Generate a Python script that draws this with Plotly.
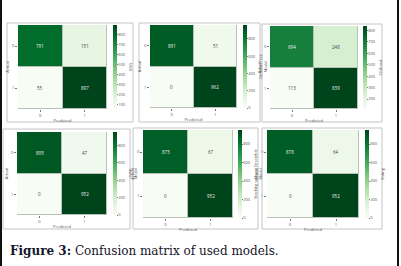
import plotly.graph_objects as go

# ---- data ----
model_names = ["KNN", "Decision Tree<br>Model", "XGBoost", "SVM<br>Model",
               "Stacking without Ensemble<br>Model", "Voting"]
cm_knn = [[791, 151], [55, 897]]
cm_dt = [[891, 51], [0, 962]]
cm_xgb = [[694, 248], [113, 839]]
cm_svm = [[895, 47], [0, 952]]
cm_stack = [[875, 67], [0, 952]]
cm_vote = [[878, 64], [0, 952]]
class_labels = ["0", "1"]
cbar_dticks = [100, 200, 100, 200, 200, 200]
caption_bold = "Figure 3:"
caption_text = "Confusion matrix of used models."

matrices = [cm_knn, cm_dt, cm_xgb, cm_svm, cm_stack, cm_vote]

W, H = 401, 266
def fx(p): return p / W
def fy(p): return 1 - p / H

greens = [[0.0, "#f7fcf5"], [0.125, "#e5f5e0"], [0.25, "#c7e9c0"], [0.375, "#a1d99b"],
          [0.5, "#74c476"], [0.625, "#41ab5d"], [0.75, "#238b45"], [0.875, "#006d2c"],
          [1.0, "#00441b"]]

# heatmap boxes (x0, x1, y0, y1) in pixels and colorbar left edge
boxes = [(18, 107, 25, 109, 113), (150, 237, 25, 108, 243), (270, 358, 26, 109, 363),
         (17, 107, 132, 215, 113), (143, 233, 130, 218, 238), (267, 359, 130, 218, 365)]
frames = [(7, 133, 23, 122), (139, 260, 23, 122), (262, 382, 24, 122),
          (3, 130, 129, 229), (133, 258, 128, 229), (262, 382, 128, 229)]

fig = go.Figure()
layout = dict(width=W, height=H, margin=dict(l=0, r=0, t=0, b=0),
              paper_bgcolor="white", plot_bgcolor="#b8c2b8", showlegend=False)
annotations = []
shapes = []

for i, (cm, name, (x0, x1, y0, y1, cbx), dt) in enumerate(zip(matrices, model_names, boxes, cbar_dticks)):
    k = "" if i == 0 else str(i + 1)
    zmin = min(min(r) for r in cm)
    zmax = max(max(r) for r in cm)
    fig.add_trace(go.Heatmap(
        z=cm, x=[0, 1], y=[0, 1], xaxis="x" + k, yaxis="y" + k,
        colorscale=greens, zmin=zmin, zmax=zmax, xgap=1, ygap=1,
        hoverinfo="skip",
        colorbar=dict(x=fx(cbx), xanchor="left", xpad=0, y=fy(y1), yanchor="bottom", ypad=0,
                      len=(y1 - y0), lenmode="pixels", thickness=4, outlinewidth=0,
                      ticks="outside", ticklen=1, tickwidth=0.5, tickcolor="#777",
                      tick0=0, dtick=dt, tickfont=dict(size=4, color="#555"),
                      title=dict(text=name, side="right", font=dict(size=4, color="#555")))
    ))
    for r in range(2):
        for c in range(2):
            v = cm[r][c]
            frac = (v - zmin) / (zmax - zmin)
            annotations.append(dict(x=c, y=r, xref="x" + k, yref="y" + k, text=str(v),
                                    showarrow=False,
                                    font=dict(size=4.5, color="#eeeeee" if frac > 0.5 else "#444444")))
    layout["xaxis" + k] = dict(domain=[fx(x0), fx(x1)], anchor="y" + k, range=[-0.5, 1.5],
                               tickvals=[0, 1], ticktext=class_labels, ticks="outside",
                               ticklen=2, tickwidth=0.5, tickcolor="#777",
                               tickfont=dict(size=4, color="#555"), showgrid=False, zeroline=False,
                               title=dict(text="Predicted", font=dict(size=4, color="#555"), standoff=2))
    layout["yaxis" + k] = dict(domain=[fy(y1), fy(y0)], anchor="x" + k, range=[1.5, -0.5],
                               tickvals=[0, 1], ticktext=class_labels, ticks="outside",
                               ticklen=2, tickwidth=0.5, tickcolor="#777",
                               tickfont=dict(size=4, color="#555"), showgrid=False, zeroline=False,
                               title=dict(text="Actual", font=dict(size=4, color="#555"), standoff=2))

for (a, b, c, d) in frames:
    shapes.append(dict(type="rect", xref="paper", yref="paper", x0=fx(a), x1=fx(b),
                       y0=fy(d), y1=fy(c), line=dict(color="#c4c4c4", width=1)))
# dark page edges
shapes.append(dict(type="rect", xref="paper", yref="paper", x0=0, x1=fx(2), y0=0, y1=1,
                   fillcolor="#111", line=dict(width=0)))
shapes.append(dict(type="rect", xref="paper", yref="paper", x0=fx(397), x1=fx(399), y0=0, y1=1,
                   fillcolor="#111", line=dict(width=0)))

annotations.append(dict(x=fx(8), y=fy(251), xref="paper", yref="paper", xanchor="left",
                        yanchor="middle", showarrow=False,
                        text="<b>" + caption_bold + "</b> " + caption_text,
                        font=dict(family="DejaVu Serif", size=12, color="#15152a")))

layout["annotations"] = annotations
layout["shapes"] = shapes
fig.update_layout(**layout)
fig.write_html("out.html", config={"displayModeBar": False},
               post_script="document.body.style.margin='0';document.body.style.overflow='hidden';")
